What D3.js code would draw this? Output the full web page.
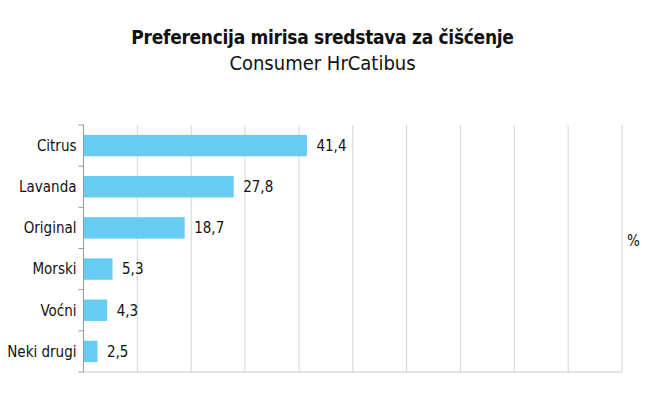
<!DOCTYPE html>
<html lang="hr">
<head>
<meta charset="UTF-8">
<title>Preferencija mirisa</title>
<style>
  body { margin: 0; background: #fff; }
  svg text { font-family: "DejaVu Sans Condensed", "DejaVu Sans", sans-serif; fill: #111; }
  .title { font-weight: bold; font-size: 19px; letter-spacing: -0.3px; }
  .subtitle { font-size: 20px; }
  .lbl { font-size: 15px; }
</style>
<script src="https://d3js.org/d3.v7.min.js"></script>
</head>
<body>
<div id="chart"></div>
<script>
const categories = ["Citrus", "Lavanda", "Original", "Morski", "Voćni", "Neki drugi"];
const values = [41.4, 27.8, 18.7, 5.3, 4.3, 2.5];
const xTicks = [0, 10, 20, 30, 40, 50, 60, 70, 80, 90, 100];

const width = 645, height = 396;
const margin = { top: 125, right: 23, bottom: 24, left: 83.5 };

const svg = d3.select("#chart").append("svg")
    .attr("width", width)
    .attr("height", height);

svg.append("text").attr("class", "title")
    .attr("x", width / 2).attr("y", 44)
    .attr("text-anchor", "middle")
    .text("Preferencija mirisa sredstava za čišćenje");
svg.append("text").attr("class", "subtitle")
    .attr("x", width / 2).attr("y", 70)
    .attr("text-anchor", "middle")
    .text("Consumer HrCatibus");

const x = d3.scaleLinear().domain([0, 100]).range([margin.left, width - margin.right]);
const y = d3.scaleBand().domain(categories)
    .range([margin.top, height - margin.bottom])
    .paddingInner(0.48).paddingOuter(0.24);

// vertical grid
svg.append("g").selectAll("line")
    .data(xTicks.slice(1))
    .join("line")
    .attr("x1", d => x(d)).attr("x2", d => x(d))
    .attr("y1", margin.top).attr("y2", height - margin.bottom)
    .attr("stroke", "#d4d4d4");

// bottom axis line
svg.append("line")
    .attr("x1", margin.left).attr("x2", x(100))
    .attr("y1", height - margin.bottom).attr("y2", height - margin.bottom)
    .attr("stroke", "#c8c8c8");

// left axis with ticks at category boundaries
const step = y.step();
const bounds = d3.range(categories.length + 1).map(i => margin.top + i * step);
svg.append("line")
    .attr("x1", margin.left).attr("x2", margin.left)
    .attr("y1", margin.top).attr("y2", height - margin.bottom)
    .attr("stroke", "#999");
svg.append("g").selectAll("line")
    .data(bounds)
    .join("line")
    .attr("x1", margin.left - 5).attr("x2", margin.left)
    .attr("y1", d => d).attr("y2", d => d)
    .attr("stroke", "#999");

// bars
svg.append("g").selectAll("rect")
    .data(values)
    .join("rect")
    .attr("x", x(0) + 0.5)
    .attr("y", (d, i) => y(categories[i]))
    .attr("width", d => x(d) - x(0))
    .attr("height", y.bandwidth())
    .attr("fill", "#66ccf2");

// category labels
svg.append("g").selectAll("text")
    .data(categories)
    .join("text").attr("class", "lbl")
    .attr("x", margin.left - 7)
    .attr("y", d => y(d) + y.bandwidth() / 2)
    .attr("dy", "0.35em")
    .attr("text-anchor", "end")
    .text(d => d);

// value labels
svg.append("g").selectAll("text")
    .data(values)
    .join("text").attr("class", "lbl")
    .attr("x", d => x(d) + 10)
    .attr("y", (d, i) => y(categories[i]) + y.bandwidth() / 2)
    .attr("dy", "0.35em")
    .text(d => d3.format(".1f")(d).replace(".", ","));

svg.append("text").attr("class", "lbl")
    .attr("x", 627).attr("y", 246)
    .text("%");
</script>
</body>
</html>
